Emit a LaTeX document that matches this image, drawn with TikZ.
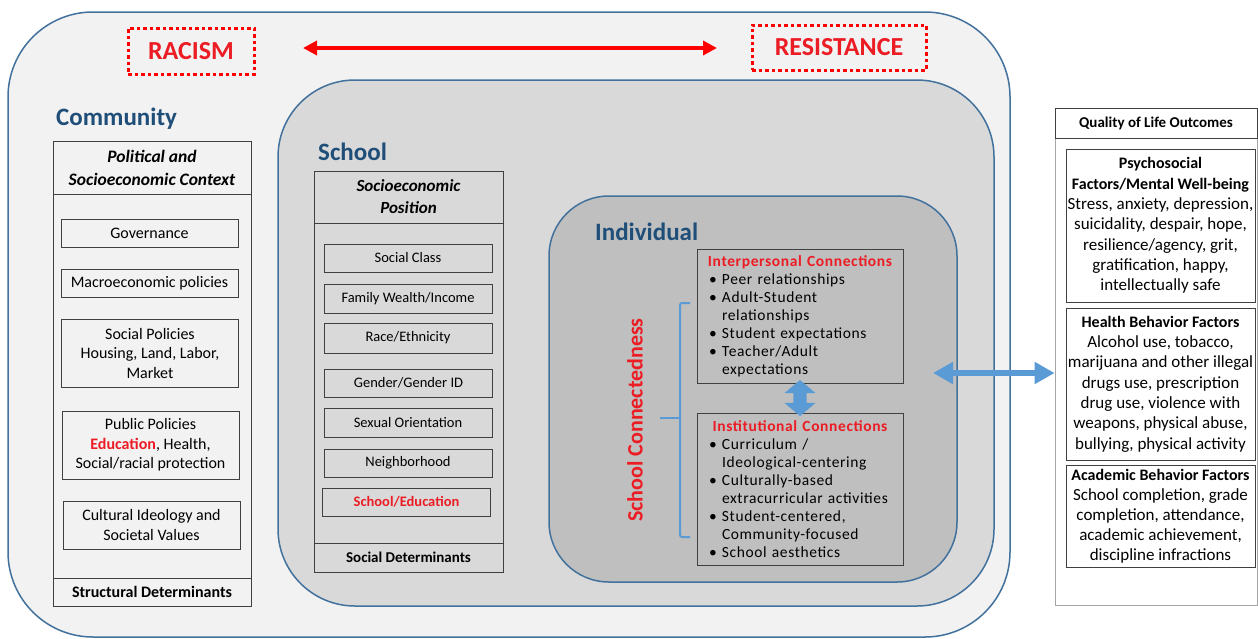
\documentclass[tikz,border=0pt]{standalone}
\usepackage{fontspec}
\setmainfont{Carlito}
\newfontfamily\spacedfont{Carlito}[LetterSpace=4]
\usetikzlibrary{arrows.meta,shapes.arrows}

\definecolor{ringline}{HTML}{41719C}
\definecolor{ringA}{HTML}{F2F2F2}
\definecolor{ringB}{HTML}{D9D9D9}
\definecolor{ringC}{HTML}{BFBFBF}
\definecolor{lvlblue}{HTML}{1F4E79}
\definecolor{alert}{HTML}{FF0000}
\definecolor{alerttxt}{HTML}{EC1C24}
\definecolor{linkblue}{HTML}{5B9BD5}
\definecolor{boxline}{HTML}{404040}

\newcommand\fsz[2]{\fontsize{#1}{#2}\selectfont}
\newcommand\bitem[1]{\makebox[13pt][l]{\textbullet}#1}
\newcommand\bcont[1]{\hspace*{13pt}#1}
\newcommand\outhead[1]{{\fsz{16}{20.3}\bfseries #1}}

\tikzset{
  ring/.style={draw=ringline, line width=1.5pt},
  frame/.style={draw=boxline, line width=1pt, inner sep=0pt, align=center},
  lvl/.style={text=lvlblue, font=\fsz{25}{30}\bfseries, inner sep=0pt, anchor=west},
  commitem/.style={frame, fill=ringA, minimum width=177pt, font=\fsz{16}{19.5}},
  schoolitem/.style={frame, fill=ringB, minimum width=168pt, font=\fsz{14.5}{17}},
  colhead/.style={frame, font=\fsz{17.5}{23}\bfseries\itshape},
  colfoot/.style={frame, font=\fsz{16}{19}\bfseries},
  dotbox/.style={draw=alert, line width=3pt, dash pattern=on 3.5pt off 3pt,
    text=alerttxt, font=\fsz{26}{30}\bfseries, inner sep=0pt},
  conbox/.style={frame, fill=ringC, minimum width=206pt, text width=182pt,
    align=left, font=\spacedfont\fsz{15.5}{18}},
  outitem/.style={frame, fill=white, minimum width=189pt, font=\fsz{17}{20.3}},
  linkarrow/.style={draw=linkblue, line width=6.5pt,
    {Triangle[length=20pt,width=21pt]}-{Triangle[length=20pt,width=21pt]}},
}

\begin{document}
\begin{tikzpicture}[x=1pt,y=-1pt]
\useasboundingbox[fill=white] (0,0) rectangle (1258,638);

% nested ecological levels
\draw[ring, fill=ringA, rounded corners=85pt] (8,12) rectangle (1010,637);
\draw[ring, fill=ringB, rounded corners=77pt] (278,80) rectangle (994,606);
\draw[ring, fill=ringC, rounded corners=60pt] (549,196) rectangle (957,582);

% racism / resistance
\node[dotbox, minimum width=126pt, minimum height=46pt] (racism) at (191,51) {RACISM};
\node[dotbox, minimum width=174pt, minimum height=45pt] (resist) at (839,47.5) {RESISTANCE};
\coordinate (redL) at (303,48);
\coordinate (redR) at (717,48);
\draw[alert, line width=4pt, {Triangle[length=14pt,width=14pt]}-{Triangle[length=14pt,width=14pt]}] (redL) -- (redR);

% level titles
\node[lvl] (tcomm) at (56,119) {Community};
\node[lvl] (tschool) at (318,152) {School};
\node[lvl] (tind) at (595,232) {Individual};

% community column: structural determinants
\node[frame, fill=ringA, minimum width=198pt, minimum height=465pt] (commcol) at (152,373.5) {};
\node[colhead, fill=ringA, minimum width=198pt, minimum height=53pt] (commhead) at (152,167.5) {Political and\\Socioeconomic Context};
\node[colfoot, fill=ringA, minimum width=198pt, minimum height=28pt] (commfoot) at (152,592) {Structural Determinants};
\node[commitem, minimum height=28pt] (gov) at (149.5,233) {Governance};
\node[commitem, minimum height=28pt] (macro) at (149.5,283) {Macroeconomic policies};
\node[commitem, minimum height=68pt] (socpol) at (150,353) {Social Policies\\Housing, Land, Labor,\\Market};
\node[commitem, minimum height=68pt] (pubpol) at (150.5,445) {Public Policies\\{\color{alerttxt}\bfseries Education}, Health,\\Social/racial protection};
\node[commitem, minimum height=48pt] (cult) at (151.5,525) {Cultural Ideology and\\Societal Values};

% school column: social determinants
\node[frame, fill=ringB, minimum width=189pt, minimum height=401pt] (schcol) at (408.5,371.5) {};
\node[colhead, fill=ringB, minimum width=189pt, minimum height=52pt, font=\fsz{17}{22}\bfseries\itshape] (schhead) at (408.5,197) {Socioeconomic\\Position};
\node[colfoot, fill=ringB, minimum width=189pt, minimum height=29pt, font=\fsz{15}{18}\bfseries] (schfoot) at (408.5,557.5) {Social Determinants};
\node[schoolitem, minimum height=28pt] (sclass) at (408,258) {Social Class};
\node[schoolitem, minimum height=29pt] (wealth) at (408,298.5) {Family Wealth/Income};
\node[schoolitem, minimum height=30pt] (race) at (408,338) {Race/Ethnicity};
\node[schoolitem, minimum height=28pt] (gender) at (408.5,383) {Gender/Gender\ ID};
\node[schoolitem, minimum height=29pt] (sexor) at (408,422.5) {Sexual Orientation};
\node[schoolitem, minimum height=28pt] (neigh) at (408,463) {Neighborhood};
\node[schoolitem, minimum height=28pt, text=alerttxt, font=\fsz{14.5}{17}\bfseries] (schedu) at (406.5,502) {School/Education};

% individual level: school connectedness
\node[conbox, minimum height=134pt] (inter) at (800,316) {%
\makebox[182pt][c]{\color{alerttxt}\bfseries Interpersonal Connections}\\
\bitem{Peer relationships}\\
\bitem{Adult-Student}\\
\bcont{relationships}\\
\bitem{Student expectations}\\
\bitem{Teacher/Adult}\\
\bcont{expectations}};
\node[conbox, minimum height=152pt] (inst) at (800,489) {%
\makebox[182pt][c]{\color{alerttxt}\bfseries Institutional Connections}\\
\bitem{Curriculum /}\\
\bcont{Ideological-centering}\\
\bitem{Culturally-based}\\
\bcont{extracurricular activities}\\
\bitem{Student-centered,}\\
\bcont{Community-focused}\\
\bitem{School aesthetics}};
\path (inter.south) -- (inst.north) node[midway, double arrow, fill=linkblue, rotate=90,
  inner sep=6.5pt, minimum height=36pt, double arrow head extend=9pt,
  double arrow tip angle=100] (vlink) {};

\node[rotate=90, text=alerttxt, font=\fsz{22}{26}\bfseries, inner sep=0pt] (sconn) at (635,420) {School Connectedness};
\coordinate (brTop) at (690,303);
\coordinate (brBot) at (690,537);
\coordinate (brStem) at (660,418);
\coordinate (brJoin) at (680,418);
\draw[linkblue, line width=2pt, rounded corners=2pt] (brTop) -- (680,303) -- (680,537) -- (brBot);
\draw[linkblue, line width=2pt] (brStem) -- (brJoin);

% quality of life outcomes
\node[draw=gray!70, line width=0.8pt, fill=white, minimum width=202pt, minimum height=497pt, inner sep=0pt] (outbox) at (1156,356.5) {};
\node[frame, fill=white, minimum width=202pt, minimum height=30pt, font=\fsz{15}{18}\bfseries] (qolhead) at (1156,123) {Quality of Life Outcomes};
\node[outitem, minimum height=153pt] (psy) at (1160.5,225.5) {\outhead{Psychosocial}\\\outhead{Factors/Mental Well-being}\\Stress, anxiety, depression,\\suicidality, despair, hope,\\resilience/agency, grit,\\gratification, happy,\\intellectually safe};
\node[outitem, minimum height=152pt] (health) at (1160.5,384) {\outhead{Health Behavior Factors}\\Alcohol use, tobacco,\\marijuana and other illegal\\drugs use, prescription\\drug use, violence with\\weapons, physical abuse,\\bullying, physical activity};
\node[outitem, minimum height=102pt, font=\fsz{17}{20}] (acad) at (1160.5,516) {\outhead{Academic Behavior Factors}\\School completion, grade\\completion, attendance,\\academic achievement,\\discipline infractions};

\coordinate (hlinkL) at (933,373);
\draw[linkarrow] (hlinkL) -- (outbox.west |- hlinkL);
\end{tikzpicture}
\end{document}
